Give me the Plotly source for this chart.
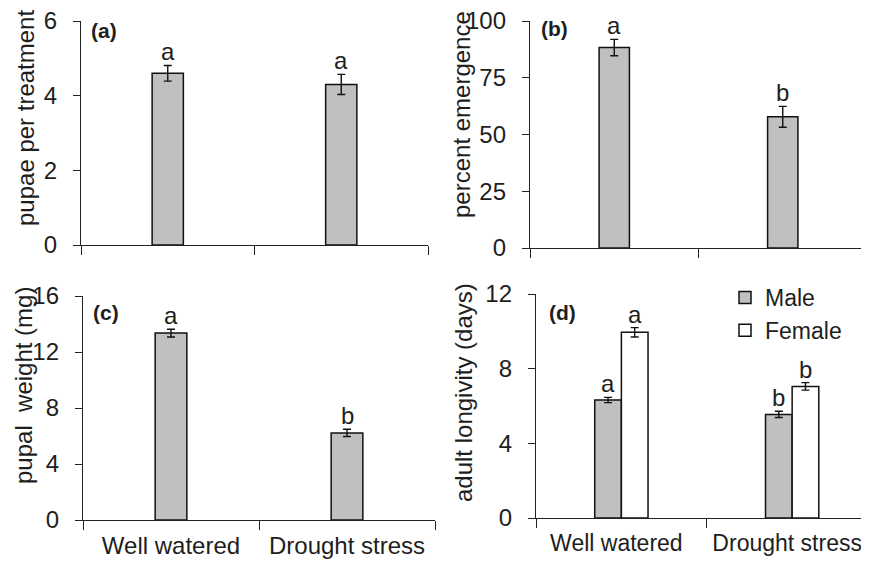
import plotly.graph_objects as go

treatments = ["Well watered", "Drought stress"]

pupae_mean = [4.6, 4.3]
pupae_err = [0.21, 0.27]
pupae_letters = ["a", "a"]

emerg_mean = [88.3, 57.8]
emerg_err = [3.6, 4.6]
emerg_letters = ["a", "b"]

weight_mean = [13.35, 6.22]
weight_err = [0.28, 0.26]
weight_letters = ["a", "b"]

male_mean = [6.32, 5.55]
male_err = [0.14, 0.17]
male_letters = ["a", "b"]
female_mean = [9.95, 7.05]
female_err = [0.25, 0.2]
female_letters = ["a", "b"]

# page is 869x561; the browser body has an 8px margin, so the figure is 8px smaller
OFF = 8
W, H = 869 - OFF, 561 - OFF
FONT = "Liberation Sans, Arial, sans-serif"
TXT = "#1e1e1e"
GRAY = "#c0c0c0"
BW = 0.18
BW4 = 0.156
FS = 24

def px_x(a, b):
    return [(a - OFF) / W, min((b - OFF) / W, 1.0)]

def px_y(top, bot):
    return [1 - (bot - OFF) / H, 1 - (top - OFF) / H]

def fx(x):
    return (x - OFF) / W

def fy(y):
    return 1 - (y - OFF) / H

fig = go.Figure()

def bar(x, y, e, xa, ya, color, name, width, offset=None, show=False):
    kw = dict(x=x, y=y, width=width, marker=dict(color=color, line=dict(color="#111", width=1.5)),
              error_y=dict(type="data", array=e, visible=True, color="#111", thickness=1.4, width=4),
              xaxis=xa, yaxis=ya, name=name, showlegend=show, hoverinfo="skip")
    if offset is not None:
        kw["offset"] = offset
    fig.add_trace(go.Bar(**kw))

bar(treatments, pupae_mean, pupae_err, "x", "y", GRAY, "a", BW)
bar(treatments, emerg_mean, emerg_err, "x2", "y2", GRAY, "b", BW)
bar(treatments, weight_mean, weight_err, "x3", "y3", GRAY, "c", BW)
bar(treatments, male_mean, male_err, "x4", "y4", GRAY, "Male", BW4, offset=-BW4, show=True)
bar(treatments, female_mean, female_err, "x4", "y4", "white", "Female", BW4, offset=0, show=True)

annots = []
def letters(xs, means, errs, labs, xr, yr):
    for x, m, e, l in zip(xs, means, errs, labs):
        annots.append(dict(x=x, y=m + e, xref=xr, yref=yr, text=l, showarrow=False,
                           yanchor="bottom", xanchor="center", yshift=-2,
                           font=dict(family=FONT, size=FS, color=TXT)))

letters([0, 1], pupae_mean, pupae_err, pupae_letters, "x", "y")
letters([0, 1], emerg_mean, emerg_err, emerg_letters, "x2", "y2")
letters([0, 1], weight_mean, weight_err, weight_letters, "x3", "y3")
letters([-BW4 / 2, 1 - BW4 / 2], male_mean, male_err, male_letters, "x4", "y4")
letters([BW4 / 2, 1 + BW4 / 2], female_mean, female_err, female_letters, "x4", "y4")

def paper_text(text, x, y, size=FS, bold=False, angle=0, xanchor="center"):
    annots.append(dict(x=fx(x), y=fy(y), xref="paper", yref="paper", text=("<b>%s</b>" % text) if bold else text,
                       showarrow=False, textangle=angle, xanchor=xanchor, yanchor="middle",
                       font=dict(family=FONT, size=size, color=TXT)))

paper_text("(a)", 89, 31, size=21, bold=True, xanchor="left")
paper_text("(b)", 539, 29, size=21, bold=True, xanchor="left")
paper_text("(c)", 91, 312, size=21, bold=True, xanchor="left")
paper_text("(d)", 547, 312, size=21, bold=True, xanchor="left")

paper_text("pupae per treatment", 25, 118, size=24, angle=-90)
paper_text("percent emergence", 462, 115, size=24, angle=-90)
paper_text("pupal  weight (mg)", 23, 386, size=24, angle=-90)
paper_text("adult longivity (days)", 463, 393, size=24, angle=-90)

xcommon = dict(type="category", tickson="boundaries", ticks="outside", ticklen=9, tickwidth=1.3,
               tickcolor="#222", showline=True, linecolor="#222", linewidth=1.3, showgrid=False,
               zeroline=False, tickfont=dict(family=FONT, size=FS, color=TXT), fixedrange=True,
               ticklabelstandoff=4, ticklabeloverflow="allow")
ycommon = dict(ticks="outside", ticklen=7, tickwidth=1.3, tickcolor="#222", showline=True,
               linecolor="#222", linewidth=1.3, showgrid=False, zeroline=False,
               tickfont=dict(family=FONT, size=FS, color=TXT), ticklabelstandoff=11,
               ticklabeloverflow="allow", fixedrange=True)

fig.update_layout(
    width=W, height=H, margin=dict(l=0, r=0, t=0, b=0, autoexpand=False),
    paper_bgcolor="white", plot_bgcolor="white", barmode="overlay",
    xaxis=dict(xcommon, domain=px_x(81, 428), range=[-0.5, 1.5], showticklabels=False, anchor="y"),
    yaxis=dict(ycommon, domain=px_y(21, 245), range=[0, 6], tickvals=[0, 2, 4, 6], anchor="x"),
    xaxis2=dict(xcommon, domain=px_x(530, 867), range=[-0.5, 1.5], showticklabels=False, anchor="y2"),
    yaxis2=dict(ycommon, domain=px_y(21, 248), range=[0, 100], tickvals=[0, 25, 50, 75, 100], anchor="x2"),
    xaxis3=dict(xcommon, domain=px_x(83, 435), range=[-0.5, 1.5], anchor="y3"),
    yaxis3=dict(ycommon, domain=px_y(296, 520), range=[0, 16], tickvals=[0, 4, 8, 12, 16], anchor="x3"),
    xaxis4=dict(xcommon, domain=px_x(536, 869), range=[-0.5, 1.45], anchor="y4",
                tickfont=dict(family=FONT, size=23, color=TXT), ticklabelshift=-5),
    yaxis4=dict(ycommon, domain=px_y(294, 518), range=[0, 12], tickvals=[0, 4, 8, 12], anchor="x4"),
    legend=dict(x=fx(725), y=fy(276), xanchor="left", yanchor="top", bgcolor="rgba(0,0,0,0)",
                font=dict(family=FONT, size=23, color=TXT), itemwidth=30, tracegroupgap=0),
    annotations=annots,
)

fig.write_html("out.html")
